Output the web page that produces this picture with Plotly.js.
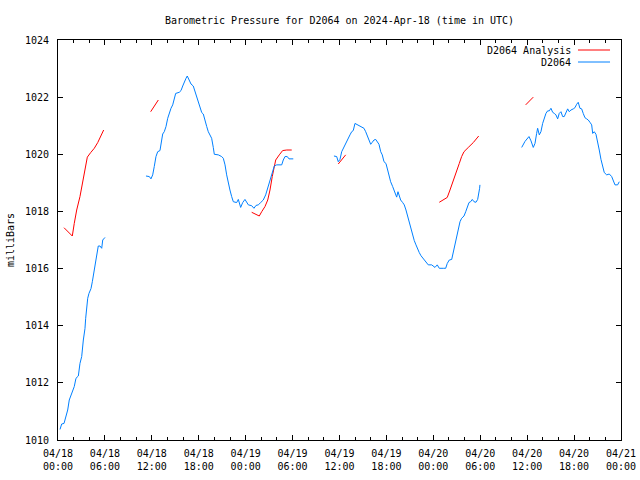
<!DOCTYPE html>
<html>
<head>
<meta charset="utf-8">
<script src="https://cdn.plot.ly/plotly-3.0.1.min.js"></script>
<style>html,body{margin:0;padding:0;background:#fff;}#chart{width:640px;height:480px;}</style>
</head>
<body>
<div id="chart"></div>
<script>
// Hours since 2024-04-18 00:00 UTC; null marks a gap in the record
const obsHours = [
 0.26,0.47,0.77,1.02,1.24,1.44,1.66,1.88,2.08,2.30,2.60,2.81,3.03,3.24,3.45,3.54,3.67,3.80,3.96,4.22,4.39,4.60,4.82,5.03,5.15,5.37,5.59,5.72,6.01,
 null,
 11.25,11.68,11.89,12.11,12.31,12.53,12.75,13.04,13.26,13.39,13.59,13.81,14.03,14.19,14.45,14.67,14.87,15.05,15.51,15.73,15.95,16.15,16.37,16.53,16.79,17.01,17.30,17.52,17.74,17.94,18.16,18.38,18.58,18.80,19.02,19.22,19.44,19.65,19.86,19.99,20.50,20.93,21.14,21.36,21.57,21.78,21.99,22.21,22.42,22.85,23.06,23.36,23.62,23.91,24.13,24.34,24.77,25.06,25.32,25.61,25.92,26.25,26.56,26.82,27.02,27.24,27.46,27.66,27.97,28.61,28.81,29.03,29.32,29.54,30.09,
 null,
 35.29,35.64,35.84,36.06,36.28,36.48,36.70,36.92,37.12,37.34,37.56,37.76,37.98,38.20,38.53,38.84,39.13,39.35,39.55,39.77,39.99,40.19,40.41,40.63,40.83,41.05,41.27,41.47,41.69,41.94,42.16,42.33,42.54,42.80,42.97,43.13,43.31,43.48,43.64,43.82,44.08,44.28,44.50,44.72,44.92,45.14,45.36,45.56,45.78,46.00,46.20,46.42,46.64,46.84,47.15,47.35,47.79,48.21,48.50,48.76,49.27,49.58,49.78,50.04,50.35,50.55,50.77,50.98,51.19,51.41,51.62,51.92,52.14,52.34,52.56,52.77,52.98,53.20,53.45,53.67,53.84,53.92,53.96,
 null,
 59.30,59.72,60.23,60.49,60.78,61.00,61.21,61.34,61.55,61.76,61.98,62.19,62.40,62.62,62.83,63.04,63.26,63.47,63.68,63.90,64.10,64.32,64.54,64.74,64.96,65.18,65.38,65.60,65.90,66.11,66.33,66.53,66.75,66.97,67.17,67.39,67.61,67.81,68.03,68.25,68.38,68.58,68.80,69.01,69.22,69.44,69.66,69.86,70.17,70.50,70.81,71.01,71.23,71.57,71.78
];
const obsPressure = [
 1010.37,1010.56,1010.58,1010.82,1011.05,1011.40,1011.56,1011.66,1011.87,1012.16,1012.24,1012.68,1012.92,1013.50,1013.90,1014.26,1014.67,1014.96,1015.13,1015.30,1015.54,1015.89,1016.13,1016.48,1016.79,1016.79,1016.71,1017.00,1017.09,
 null,
 1019.24,1019.22,1019.14,1019.28,1019.57,1019.92,1020.09,1020.13,1020.50,1020.71,1020.79,1020.97,1021.26,1021.43,1021.61,1021.73,1021.99,1022.13,1022.17,1022.23,1022.39,1022.54,1022.66,1022.74,1022.58,1022.46,1022.39,1022.19,1022.02,1021.84,1021.67,1021.46,1021.41,1021.14,1020.97,1020.79,1020.68,1020.56,1020.24,1020.00,1019.98,1019.92,1019.86,1019.63,1019.28,1018.98,1018.75,1018.52,1018.34,1018.31,1018.42,1018.14,1018.31,1018.42,1018.31,1018.23,1018.20,1018.11,1018.21,1018.23,1018.31,1018.40,1018.58,1018.81,1019.04,1019.24,1019.39,1019.59,1019.63,1019.63,1019.80,1019.92,1019.92,1019.84,1019.84,
 null,
 1019.94,1019.92,1019.74,1019.82,1020.09,1020.21,1020.29,1020.44,1020.56,1020.68,1020.79,1020.83,1021.08,1021.05,1021.00,1020.94,1020.91,1020.79,1020.64,1020.48,1020.35,1020.42,1020.50,1020.52,1020.42,1020.35,1020.09,1019.98,1019.74,1019.68,1019.45,1019.22,1019.04,1018.87,1018.75,1018.64,1018.50,1018.69,1018.52,1018.40,1018.31,1018.23,1018.05,1017.82,1017.58,1017.35,1017.14,1016.98,1016.83,1016.67,1016.56,1016.45,1016.37,1016.28,1016.16,1016.13,1016.13,1016.04,1016.13,1016.01,1016.01,1016.01,1016.18,1016.30,1016.32,1016.59,1016.83,1017.06,1017.35,1017.64,1017.76,1017.84,1017.99,1018.17,1018.31,1018.34,1018.42,1018.34,1018.32,1018.42,1018.64,1018.81,1018.93,
 null,
 1020.24,1020.45,1020.62,1020.47,1020.24,1020.38,1020.73,1020.91,1020.68,1020.79,1021.08,1021.26,1021.43,1021.52,1021.52,1021.61,1021.47,1021.43,1021.38,1021.24,1021.43,1021.49,1021.32,1021.32,1021.43,1021.59,1021.49,1021.55,1021.59,1021.63,1021.75,1021.82,1021.61,1021.59,1021.43,1021.28,1021.24,1021.20,1021.12,1021.03,1020.73,1020.79,1020.70,1020.45,1020.15,1019.82,1019.59,1019.36,1019.28,1019.31,1019.22,1019.10,1018.93,1018.93,1019.04
];
const anaHours = [
 0.77,1.83,2.08,2.39,2.81,3.24,3.54,3.75,4.18,4.64,5.08,5.50,5.84,
 null, 11.85,12.83,
 null, 24.77,25.19,25.74,26.05,26.47,26.82,27.11,27.40,27.66,27.84,28.30,28.73,29.25,29.89,
 null, 35.84,36.79,
 null, 48.76,49.27,49.78,50.13,50.47,50.90,51.32,51.62,51.92,52.47,53.11,53.80,
 null, 59.81,60.78
];
const anaPressure = [
 1017.43,1017.14,1017.58,1018.05,1018.52,1019.22,1019.63,1019.90,1020.06,1020.21,1020.41,1020.68,1020.85,
 null, 1021.49,1021.90,
 null, 1017.97,1017.91,1017.84,1017.99,1018.17,1018.40,1018.75,1019.22,1019.63,1019.80,1019.98,1020.13,1020.15,1020.15,
 null, 1019.66,1019.98,
 null, 1018.32,1018.42,1018.49,1018.75,1019.04,1019.33,1019.68,1019.92,1020.09,1020.24,1020.41,1020.64,
 null, 1021.73,1022.00
];
const seriesNames = ['D2064 Analysis', 'D2064'];
const seriesColors = ['#ff0000', '#0080ff'];
const startTime = '2024-04-18 00:00:00';
const endTime = '2024-04-21 00:00:00';

const base = Date.UTC(2024, 3, 18, 0, 0, 0);
function toDate(h) {
  if (h === null) return null;
  return new Date(base + Math.round(h * 3600) * 1000).toISOString().replace('T', ' ').slice(0, 19);
}

const FONT = 'DejaVu Sans Mono, Liberation Mono, monospace';

const traces = [
  {x: anaHours.map(toDate), y: anaPressure, type: 'scatter', mode: 'lines', name: seriesNames[0],
   line: {color: seriesColors[0], width: 1}, connectgaps: false, showlegend: false},
  {x: obsHours.map(toDate), y: obsPressure, type: 'scatter', mode: 'lines', name: seriesNames[1],
   line: {color: seriesColors[1], width: 1}, connectgaps: false, showlegend: false}
];

// legend drawn gnuplot-style: text right-aligned, sample line to its right
const legendY = [0.975, 0.945];
const annotations = seriesNames.map((n, i) => ({
  text: n, xref: 'paper', yref: 'paper', x: 0.9147, y: legendY[i], xanchor: 'right', yanchor: 'middle',
  showarrow: false, font: {family: FONT, size: 10, color: '#000'}
}));
const shapes = seriesNames.map((n, i) => ({
  type: 'line', xref: 'paper', yref: 'paper', x0: 0.9236, x1: 0.9805, y0: legendY[i], y1: legendY[i],
  line: {color: seriesColors[i], width: 1}
}));

const layout = {
  width: 640, height: 480,
  margin: {l: 58, r: 19, t: 40, b: 40, pad: 0},
  paper_bgcolor: '#fff', plot_bgcolor: '#fff',
  font: {family: FONT, size: 10, color: '#000'},
  title: {text: 'Barometric Pressure for D2064 on 2024-Apr-18 (time in UTC)',
          x: 0.5, xref: 'paper', xanchor: 'center', y: 1 - 20/480, yref: 'container', yanchor: 'middle',
          font: {family: FONT, size: 10, color: '#000'}},
  showlegend: false,
  xaxis: {
    type: 'date', range: [startTime, endTime], autorange: false,
    tick0: startTime, dtick: 6 * 3600 * 1000, tickformat: '%m/%d<br>%H:%M',
    ticks: 'inside', ticklen: 5, tickwidth: 1, tickcolor: '#000',
    minor: {dtick: 2 * 3600 * 1000, tick0: startTime, ticks: 'inside', ticklen: 3, tickcolor: '#000', showgrid: false},
    showline: true, linecolor: '#000', linewidth: 1, mirror: 'allticks',
    showgrid: false, zeroline: false,
    tickfont: {family: FONT, size: 10, color: '#000'}, ticklabelstandoff: 4
  },
  yaxis: {
    range: [1010, 1024], autorange: false, tick0: 1010, dtick: 2,
    ticks: 'inside', ticklen: 5, tickwidth: 1, tickcolor: '#000',
    showline: true, linecolor: '#000', linewidth: 1, mirror: 'allticks',
    showgrid: false, zeroline: false,
    tickfont: {family: FONT, size: 10, color: '#000'}, ticklabelstandoff: 6,
    title: {text: 'milliBars', font: {family: FONT, size: 10, color: '#000'}, standoff: 8}
  },
  annotations: annotations,
  shapes: shapes
};

Plotly.newPlot('chart', traces, layout, {displayModeBar: false, staticPlot: true});
</script>
</body>
</html>
